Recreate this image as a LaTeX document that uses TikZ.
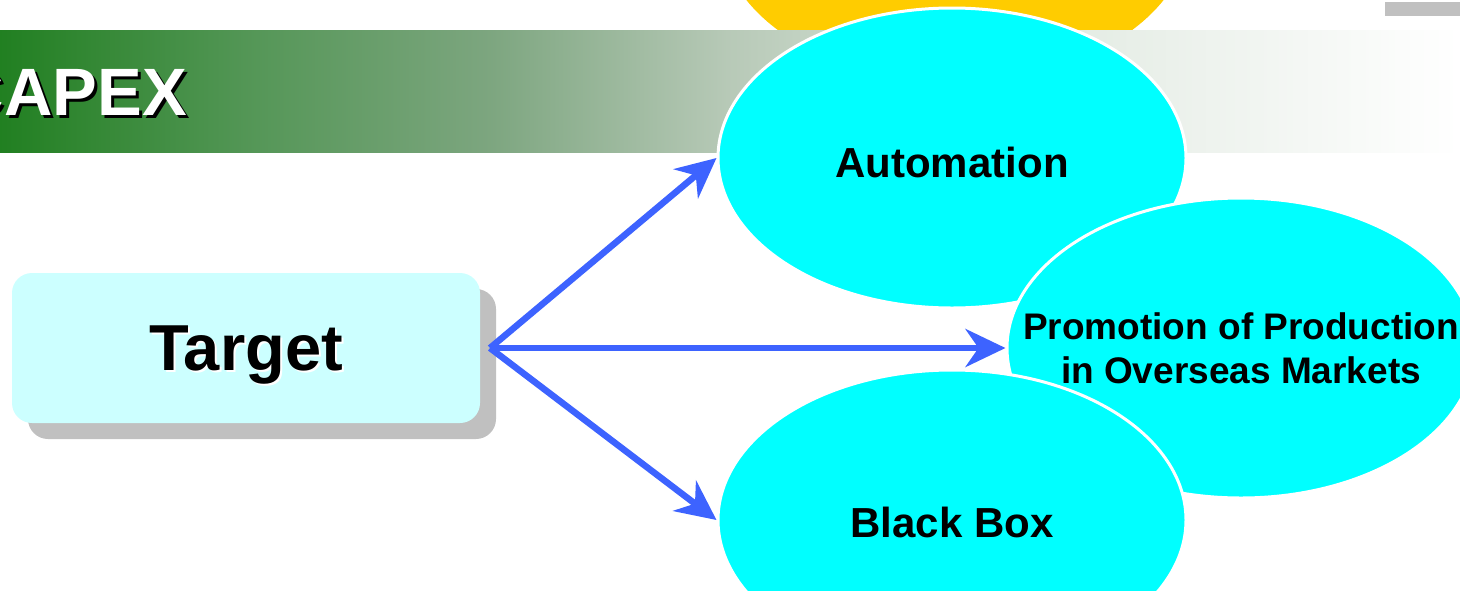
\documentclass[tikz,border=0pt]{standalone}
\usepackage{fontspec}
\setmainfont{Liberation Sans}
\usetikzlibrary{shapes.geometric,arrows.meta}

\definecolor{aqua}{RGB}{0,255,255}
\definecolor{paleaqua}{RGB}{204,255,255}
\definecolor{arrowblue}{RGB}{61,99,255}
\definecolor{sungold}{RGB}{255,204,0}
\definecolor{shadowgray}{RGB}{192,192,192}
\pgfdeclarehorizontalshading{bannershade}{100bp}{rgb(0bp)=(0.13,0.5,0.13); rgb(25bp)=(0.13,0.5,0.13); rgb(33.6bp)=(0.33,0.59,0.34); rgb(41.8bp)=(0.49,0.65,0.5); rgb(50bp)=(0.72,0.79,0.72); rgb(59.2bp)=(0.87,0.91,0.87); rgb(66.1bp)=(0.93,0.95,0.93); rgb(75bp)=(1,1,1); rgb(100bp)=(1,1,1)}

\begin{document}
\begin{tikzpicture}[x=1pt,y=-1pt,
  bubble/.style={ellipse,fill=aqua,draw=white,line width=3pt,minimum width=468pt,minimum height=300pt,inner sep=0pt},
  bubbletext/.style={font=\bfseries\fontsize{42}{44}\selectfont,inner sep=0pt},
  link/.style={arrowblue,line width=6.5pt,-{Stealth[length=40pt,width=38pt,inset=13pt]}}]
\useasboundingbox (0,0) rectangle (1460,590);
\clip (0,0) rectangle (1460,590);

% sun behind the banner
\fill[sungold] (955,-68) ellipse[x radius=234,y radius=150];
\shade[shading=bannershade] (0,30) rectangle (1460,152);
\fill[shadowgray] (1385,2) rectangle (1460,16);

% title
\node[font=\bfseries\fontsize{67}{70}\selectfont,inner sep=0pt,anchor=east] (titleshadow) at (190,95.5) {CAPEX};
\node[font=\bfseries\fontsize{67}{70}\selectfont,inner sep=0pt,anchor=east,white] (title) at (187,92.5) {CAPEX};

% target box
\node[fill=shadowgray,rounded corners=20pt,minimum width=468pt,minimum height=150pt] (tgtshadow) at (262,364) {};
\node[fill=paleaqua,rounded corners=20pt,minimum width=468pt,minimum height=150pt] (tgt) at (246,348) {};
\node[font=\bfseries\fontsize{65}{68}\selectfont,inner sep=0pt,anchor=base,white] (tgtshade) at (248,372) {Target};
\node[font=\bfseries\fontsize{65}{68}\selectfont,inner sep=0pt,anchor=base] (tgtlabel) at (246,370) {Target};

% the three aims
\node[bubble] (auto) at (952,158) {};
\node[bubble] (promo) at (1241,348) {};
\node[bubble] (bbox) at (952,520) {};

\node[bubbletext,anchor=base] (autolabel) at (952,177) {Automation};
\node[bubbletext,font=\bfseries\fontsize{37}{44}\selectfont,align=center] (promolabel) at (promo.center) {Promotion of Production\\in Overseas Markets};
\node[bubbletext,anchor=base] (bboxlabel) at (952,537) {Black Box};

\coordinate (hub) at (490,348);
\draw[link] (hub) -- (auto.west);
\draw[link] (hub) -- (promo.west);
\draw[link] (hub) -- (bbox.west);

\end{tikzpicture}
\end{document}
